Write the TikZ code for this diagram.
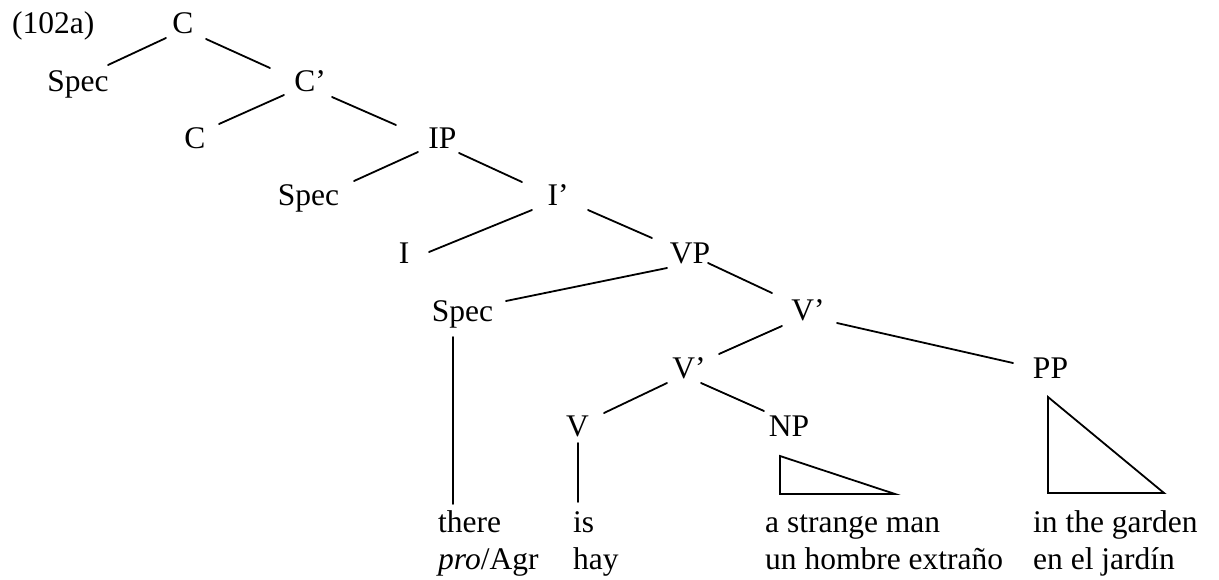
\documentclass[tikz,border=0pt]{standalone}
\usepackage{fontspec}
\setmainfont{Liberation Serif}
\usetikzlibrary{calc}
\begin{document}
\begin{tikzpicture}[x=1pt,y=-1pt,
  lbl/.style={inner sep=0pt, anchor=base, font=\fontsize{31.5}{37}\selectfont},
  leaf/.style={lbl, anchor=base west},
  edge/.style={line width=1.8pt, line cap=round},
  tri/.style={line width=1.8pt, line join=miter}]
\useasboundingbox (0,0) rectangle (1219,579);
% labels
\node[leaf] (ex) at (12,33) {(102a)};
\node[lbl] (C0) at (183,33) {C};
\node[lbl] (S1) at (78,91) {Spec};
\node[lbl] (C1) at (310,91) {C’};
\node[lbl] (C2) at (195,148) {C};
\node[lbl] (IP) at (442.5,148) {IP};
\node[lbl] (S2) at (308.5,205) {Spec};
\node[lbl] (I1) at (558,205) {I’};
\node[lbl] (I0) at (404,263) {I};
\node[lbl] (VP) at (690,263) {VP};
\node[lbl] (S3) at (462.5,321) {Spec};
\node[lbl] (V1) at (808,320) {V’};
\node[lbl] (V2) at (689,378) {V’};
\node[lbl] (PP) at (1050.5,378) {PP};
\node[lbl] (V0) at (577.5,436) {V};
\node[lbl] (NP) at (789,436) {NP};
% leaves
\node[leaf] (T1) at (438,532) {there};
\node[leaf] (T2) at (438,569) {\textit{pro}/Agr};
\node[leaf] (H1) at (573,532) {is};
\node[leaf] (H2) at (573,569) {hay};
\node[leaf] (M1) at (765,532) {a strange man};
\node[leaf] (M2) at (765,569) {un hombre extraño};
\node[leaf] (G1) at (1033,532) {in the garden};
\node[leaf] (G2) at (1033,569) {en el jardín};
% branches
\draw[edge] ($(C0.base)+(-17,5)$) -- ($(S1.base)+(30,-26)$);
\draw[edge] ($(C0.base)+(23,6)$) -- ($(C1.base)+(-40,-23)$);
\draw[edge] ($(C1.base)+(-26,4)$) -- ($(C2.base)+(24,-24)$);
\draw[edge] ($(C1.base)+(22,6)$) -- ($(IP.base)+(-46.5,-23)$);
\draw[edge] ($(IP.base)+(-24.5,4)$) -- ($(S2.base)+(45.5,-24)$);
\draw[edge] ($(IP.base)+(16.5,5)$) -- ($(I1.base)+(-36,-23)$);
\draw[edge] ($(I1.base)+(-26,5)$) -- ($(I0.base)+(25,-11)$);
\draw[edge] ($(I1.base)+(30,5)$) -- ($(VP.base)+(-38,-25)$);
\draw[edge] ($(VP.base)+(-23,5)$) -- ($(S3.base)+(43.5,-20)$);
\draw[edge] ($(VP.base)+(18,0)$) -- ($(V1.base)+(-36,-27)$);
\draw[edge] ($(V1.base)+(-26,6)$) -- ($(V2.base)+(30,-24)$);
\draw[edge] ($(V1.base)+(29,3)$) -- ($(PP.base)+(-37.5,-15)$);
\draw[edge] ($(V2.base)+(-22,5)$) -- ($(V0.base)+(26.5,-23)$);
\draw[edge] ($(V2.base)+(12,5)$) -- ($(NP.base)+(-25,-25)$);
\draw[edge] ($(S3.base)+(-9.5,16)$) -- ($(T1.base west)+(15,-28)$);
\draw[edge] ($(V0.base)+(0.5,7)$) -- ($(H1.base west)+(5,-30)$);
% triangles
\draw[tri] ($(NP.base)+(-9,20)$) -- ($(NP.base)+(-9,58)$) -- ($(NP.base)+(106,58)$) -- cycle;
\draw[tri] ($(PP.base)+(-2.5,19)$) -- ($(PP.base)+(-2.5,115)$) -- ($(PP.base)+(113.5,115)$) -- cycle;
\end{tikzpicture}
\end{document}
